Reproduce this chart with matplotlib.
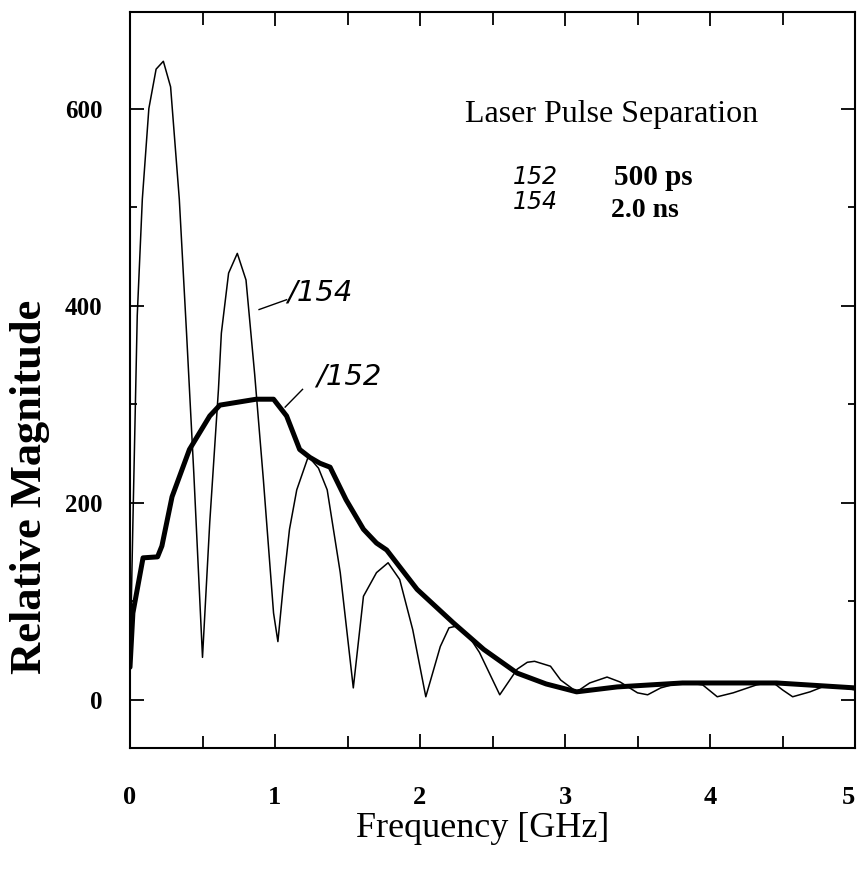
import matplotlib
matplotlib.use("Agg")
import matplotlib.pyplot as plt
from matplotlib.ticker import MultipleLocator

# ---- data ----
freq_154 = [0.00, 0.02, 0.05, 0.085, 0.13, 0.18, 0.23, 0.28, 0.34, 0.39, 0.44, 0.50,
            0.55, 0.61, 0.63, 0.68, 0.74, 0.80, 0.86, 0.92, 0.99, 1.02, 1.06, 1.10,
            1.15, 1.23, 1.30, 1.36, 1.45, 1.54, 1.61, 1.70, 1.78, 1.86, 1.95, 2.04,
            2.14, 2.20, 2.26, 2.33, 2.41, 2.55, 2.67, 2.74, 2.79, 2.90, 2.97, 3.08,
            3.17, 3.29, 3.38, 3.50, 3.57, 3.66, 3.81, 3.95, 4.05, 4.16, 4.32, 4.43,
            4.50, 4.57, 4.69, 4.81, 5.00]
mag_154 = [33, 180, 390, 508, 600, 640, 648, 622, 508, 372, 230, 43,
           180, 315, 372, 433, 453, 426, 330, 223, 88, 59, 120, 173,
           213, 247, 235, 213, 129, 12, 105, 129, 139, 122, 71, 3,
           54, 73, 75, 66, 48, 5, 31, 38, 39, 34, 20, 8,
           17, 23, 18, 7, 5, 12, 18, 15, 3, 7, 15, 18,
           10, 3, 8, 15, 10]

freq_152 = [0.00, 0.02, 0.09, 0.19, 0.22, 0.29, 0.41, 0.55, 0.62, 0.87, 0.99, 1.08,
            1.17, 1.24, 1.31, 1.38, 1.49, 1.61, 1.70, 1.77, 1.98, 2.23, 2.44, 2.67,
            2.87, 3.08, 3.36, 3.81, 4.46, 5.00]
mag_152 = [33, 88, 144, 145, 156, 206, 254, 288, 299, 305, 305, 288,
           254, 246, 240, 236, 203, 173, 159, 152, 112, 78, 51, 27,
           16, 8, 13, 17, 17, 12]

x_ticks = [0, 1, 2, 3, 4, 5]
y_ticks = [0, 200, 400, 600]
legend_title = "Laser Pulse Separation"
legend_ids = ["152", "154"]
legend_vals = ["500 ps", "2.0 ns"]

SERIF = ["Liberation Serif", "DejaVu Serif"]
HAND = ["DejaVu Sans"]

fig = plt.figure(figsize=(8.58, 8.75), dpi=100)
ax = fig.add_axes([130 / 858, 1 - 748 / 875, 725 / 858, 736 / 875])

ax.plot(freq_154, mag_154, color="black", lw=1.1, solid_joinstyle="round")
ax.plot(freq_152, mag_152, color="black", lw=3.6, solid_joinstyle="round",
        solid_capstyle="round")

ax.set_xlim(0, 5)
ax.set_ylim(-49, 698)

ax.set_xticks(x_ticks)
ax.set_yticks(y_ticks)
ax.xaxis.set_minor_locator(MultipleLocator(0.5))
ax.yaxis.set_minor_locator(MultipleLocator(100))
ax.tick_params(which="both", direction="in", top=True, right=True, width=1.3,
               color="black")
ax.tick_params(which="major", length=10)
ax.tick_params(which="minor", length=9)
ax.tick_params(axis="y", which="minor", length=5)
ax.tick_params(axis="x", which="major", pad=27)
ax.tick_params(axis="y", which="major", pad=20)
ax.set_xticklabels([str(t) for t in x_ticks], family=SERIF, fontweight="bold",
                   fontsize=19)
ax.set_yticklabels([str(t) for t in y_ticks], family=SERIF, fontweight="bold",
                   fontsize=18)
ax.get_xticklabels()[-1].set_ha("right")
for sp in ax.spines.values():
    sp.set_linewidth(1.5)

ax.set_xlabel("Frequency [GHz]", family=SERIF, fontsize=26)
ax.xaxis.set_label_coords(0.486, -0.11)
ax.xaxis.label.set_va("center")
ax.set_ylabel("Relative Magnitude", family=SERIF, fontsize=32, fontweight="bold")
ax.yaxis.set_label_coords(-0.138, 0.355)
ax.yaxis.label.set_va("center")

# legend-like text block
ax.text(2.31, 594, legend_title, family=SERIF, fontsize=23, ha="left", va="center")
ax.text(2.64, 531, legend_ids[0], family=HAND, fontsize=17, style="italic",
        fontweight="light", ha="left", va="center")
ax.text(3.34, 530, legend_vals[0], family=SERIF, fontsize=21, fontweight="bold",
        ha="left", va="center")
ax.text(2.64, 505, legend_ids[1], family=HAND, fontsize=17, style="italic",
        fontweight="light", ha="left", va="center")
ax.text(3.32, 497, legend_vals[1], family=SERIF, fontsize=20, fontweight="bold",
        ha="left", va="center")

# handwritten reference labels with leaders
ax.text(1.31, 413, "/154", family=HAND, fontsize=21, style="italic",
        fontweight="light", ha="center", va="center")
ax.plot([0.89, 1.08], [396, 406], color="black", lw=1.0)
ax.text(1.51, 328, "/152", family=HAND, fontsize=21, style="italic",
        fontweight="light", ha="center", va="center")
ax.plot([1.07, 1.19], [297, 315], color="black", lw=1.0)

fig.savefig("out.png", dpi=100)
